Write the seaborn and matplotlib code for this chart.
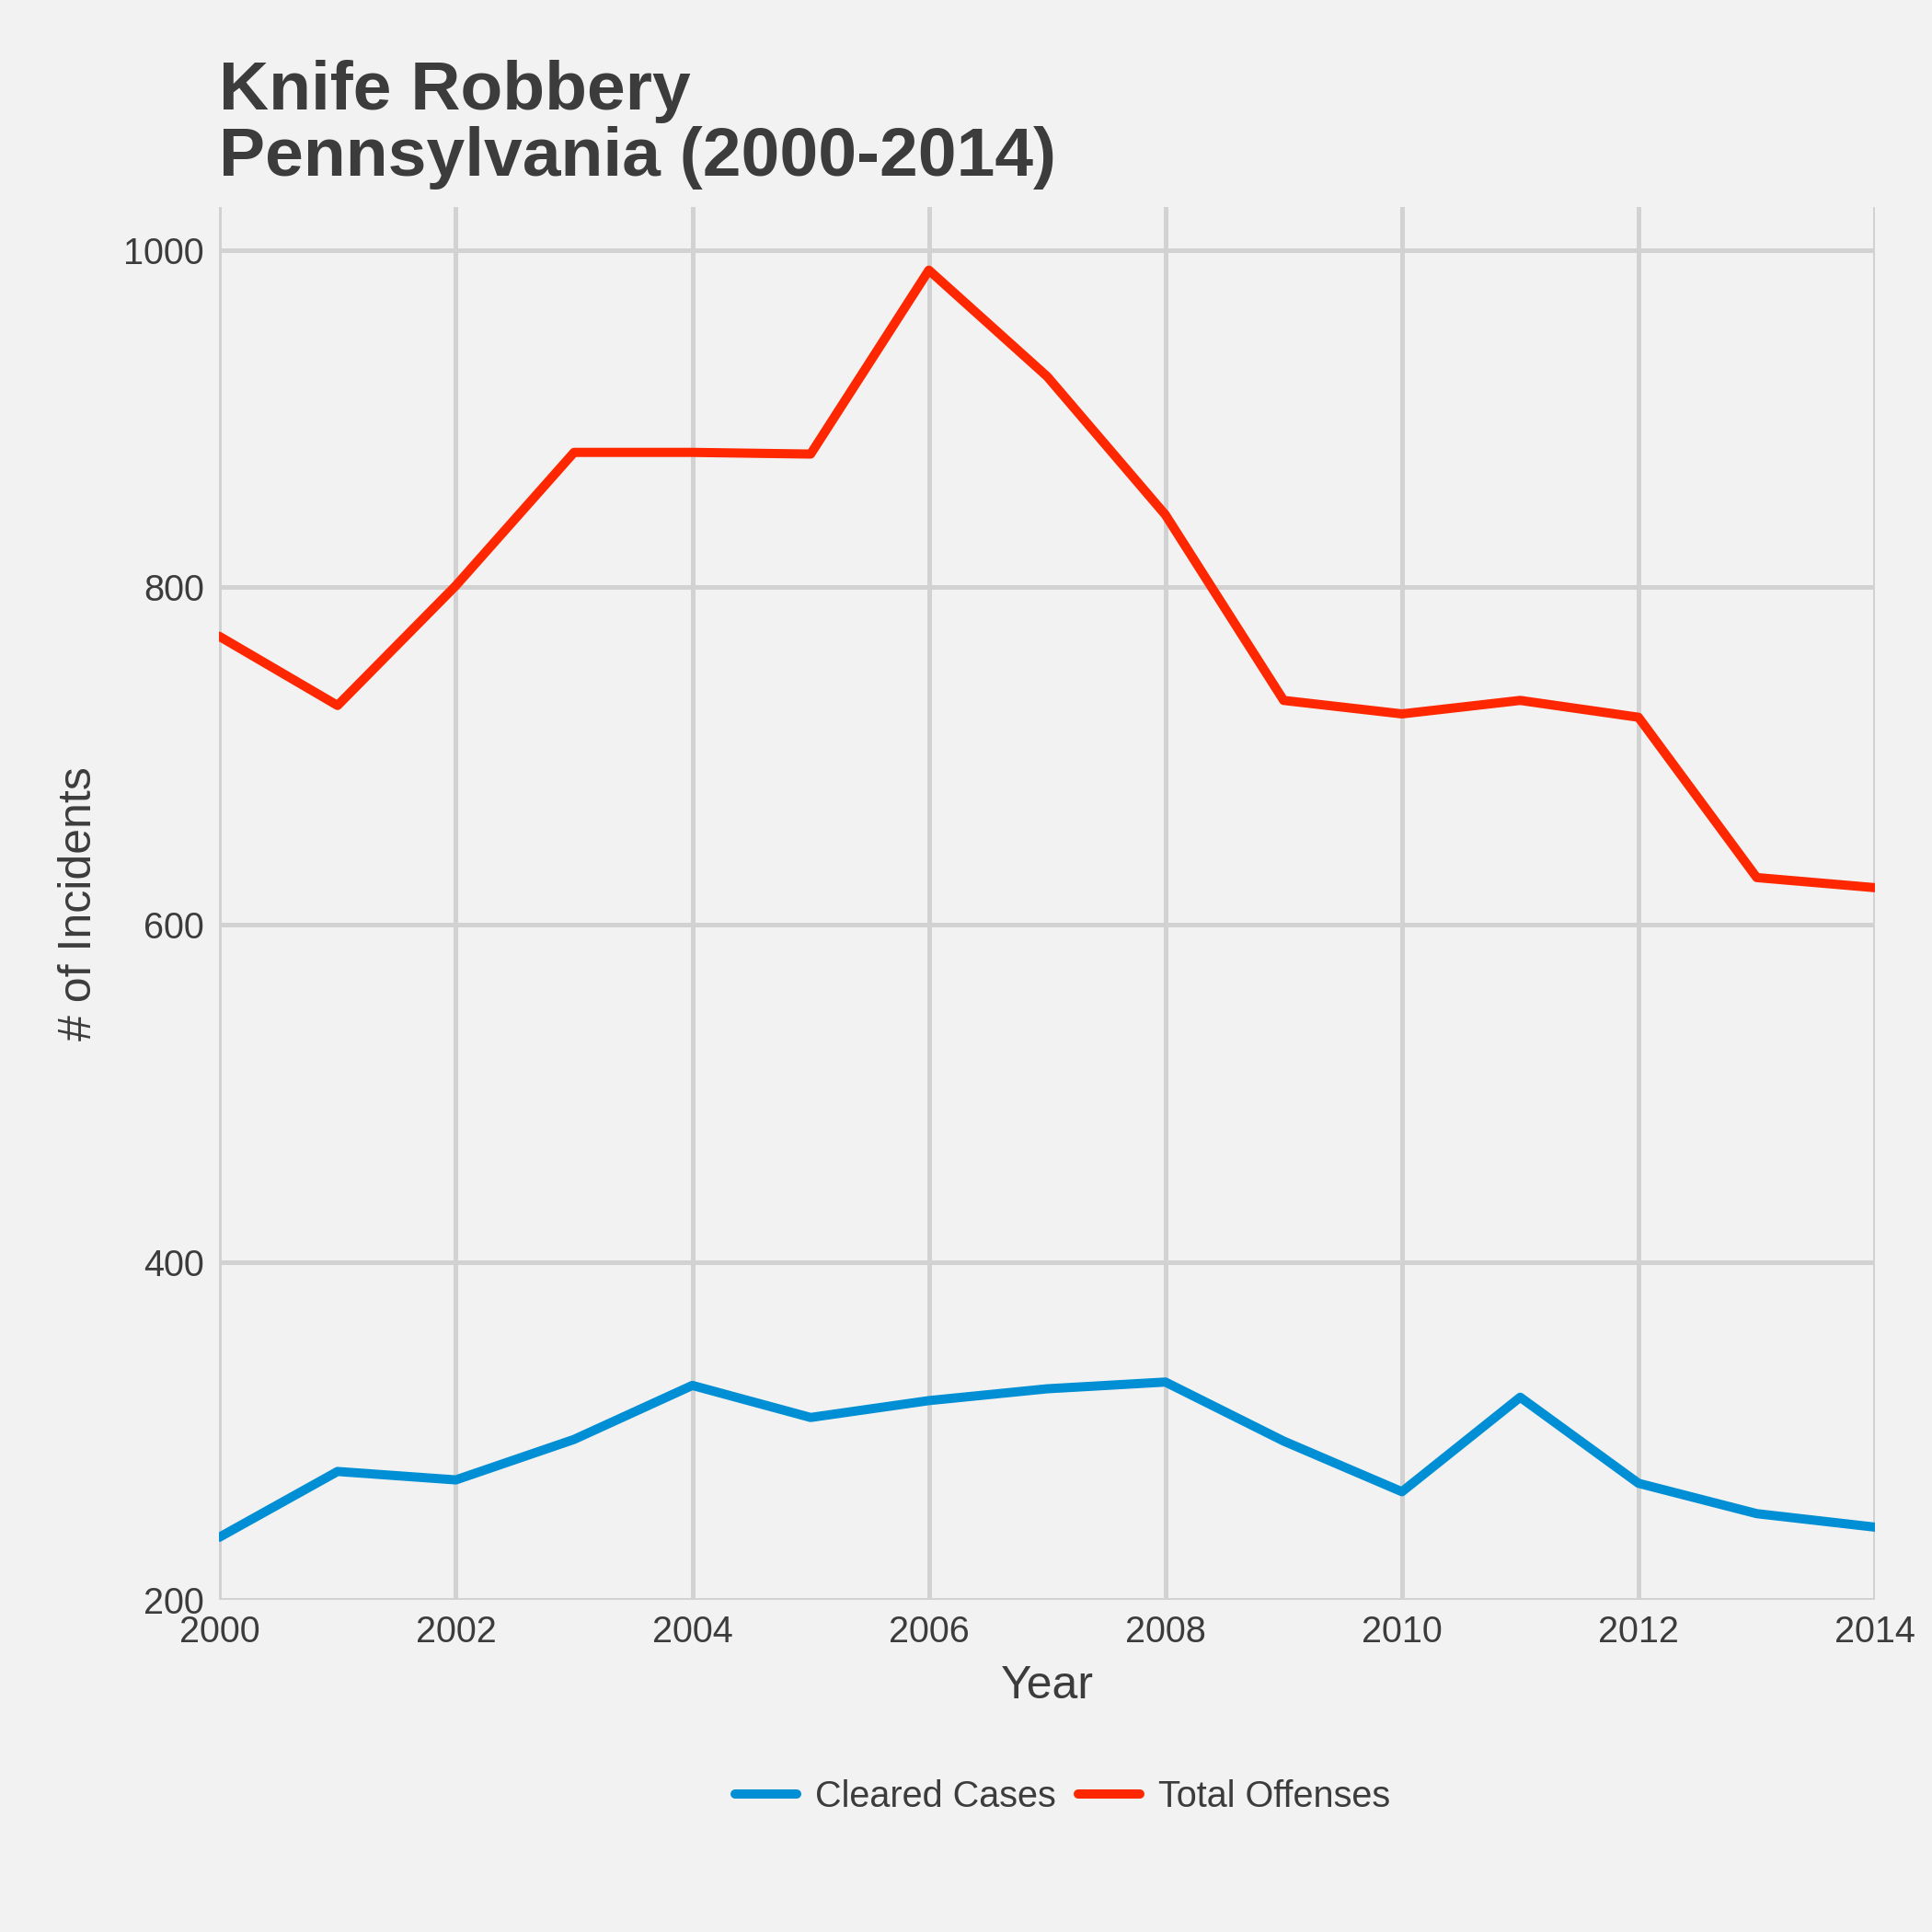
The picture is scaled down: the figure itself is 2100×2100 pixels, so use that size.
import matplotlib
matplotlib.use("Agg")
import matplotlib.pyplot as plt
import seaborn as sns
import pandas as pd

years = list(range(2000, 2015))
total_offenses = [771, 730, 801, 880, 880, 879, 988, 925, 843, 733, 725, 733, 723, 628, 622]
cleared_cases = [237, 276, 271, 295, 327, 308, 318, 325, 329, 294, 264, 320, 269, 251, 243]
series_names = ["Cleared Cases", "Total Offenses"]
colors = {"Cleared Cases": "#008FD5", "Total Offenses": "#FF2700"}

df = pd.concat([
    pd.DataFrame({"Year": years, "value": cleared_cases, "series": series_names[0]}),
    pd.DataFrame({"Year": years, "value": total_offenses, "series": series_names[1]}),
])

bg = "#F2F2F2"
sns.set_theme(style="whitegrid", rc={"axes.facecolor": bg, "figure.facecolor": bg,
                                     "grid.color": "#D2D2D2", "grid.linewidth": 1.2})
plt.rcParams["font.family"] = ["Liberation Sans", "DejaVu Sans"]

fig = plt.figure(figsize=(7, 7), dpi=300)
ax = fig.add_axes([0.1135, 0.172, 0.857, 0.721])
sns.lineplot(data=df, x="Year", y="value", hue="series", palette=colors,
             linewidth=2.4, ax=ax, legend=False)
for s in ax.spines.values():
    s.set_visible(False)
ax.set_xlim(2000, 2014)
ax.set_ylim(200, 1025.6)
ax.set_xticks(range(2000, 2015, 2))
ax.set_yticks([200, 400, 600, 800, 1000])
ax.tick_params(labelsize=9.5, colors="#3C3C3C", length=0, pad=4)
ax.set_xlabel("Year", fontsize=12, color="#3C3C3C", labelpad=4)
ax.set_ylabel("# of Incidents", fontsize=12, color="#3C3C3C", labelpad=6)

fig.text(0.1135, 0.902, "Knife Robbery\nPennsylvania (2000-2014)", fontsize=18,
         fontweight="bold", color="#3C3C3C", ha="left", va="bottom", linespacing=1.05)

handles = [plt.Line2D([], [], color=colors[n], linewidth=2.4) for n in series_names]
fig.legend(handles, series_names, loc="center", bbox_to_anchor=(0.55, 0.07), ncol=2,
           frameon=False, fontsize=9.5, handlelength=1.7, columnspacing=0.6,
           handletextpad=0.5, labelcolor="#3C3C3C")

fig.savefig("out.png", dpi=300, facecolor=bg)
